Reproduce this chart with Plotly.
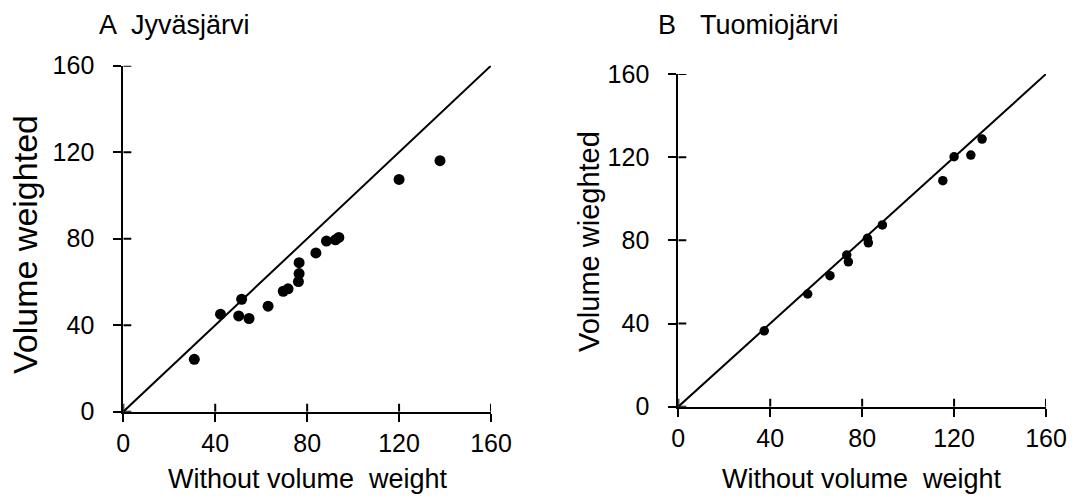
import plotly.graph_objects as go

# Jyväsjärvi: estimates without and with volume weighting
jyv_without = [30.9, 42.3, 51.5, 50.2, 54.7, 63.0, 69.6, 71.7, 76.2, 76.5, 76.5, 83.8, 88.4, 92.3, 93.8, 120.0, 137.8]
jyv_weighted = [24.2, 45.1, 52.0, 44.3, 43.1, 48.8, 55.7, 56.8, 60.2, 63.9, 68.9, 73.4, 78.9, 79.5, 80.6, 107.4, 116.1]

# Tuomiojärvi
tuo_without = [37.4, 56.3, 66.0, 73.3, 74.0, 82.3, 82.7, 88.8, 115.1, 120.0, 127.3, 132.2]
tuo_weighted = [36.5, 54.2, 63.0, 72.9, 69.7, 81.0, 78.8, 87.4, 108.7, 120.2, 121.0, 128.7]

# 1:1 reference line
one_to_one = [0, 160]
tick_vals = [0, 40, 80, 120, 160]

W, H = 1072, 496
FONT = "Liberation Sans, Arial, sans-serif"

fig = go.Figure()

fig.add_trace(go.Scatter(x=one_to_one, y=one_to_one, mode="lines",
                         line=dict(color="black", width=2), xaxis="x", yaxis="y",
                         showlegend=False, hoverinfo="skip"))
fig.add_trace(go.Scatter(x=jyv_without, y=jyv_weighted, mode="markers",
                         marker=dict(color="black", size=11), xaxis="x", yaxis="y",
                         showlegend=False))
fig.add_trace(go.Scatter(x=one_to_one, y=one_to_one, mode="lines",
                         line=dict(color="black", width=2), xaxis="x2", yaxis="y2",
                         showlegend=False, hoverinfo="skip"))
fig.add_trace(go.Scatter(x=tuo_without, y=tuo_weighted, mode="markers",
                         marker=dict(color="black", size=9.5), xaxis="x2", yaxis="y2",
                         showlegend=False))


def px_x(p):
    return p / W


def px_y(p):
    return 1 - p / H


tickfont = dict(family=FONT, size=25, color="black")

base_x = dict(range=[0, 160], tickvals=tick_vals, ticks="outside", ticklen=8, tickwidth=2,
              tickcolor="black", showline=True, linewidth=2, linecolor="black",
              showgrid=False, zeroline=False, tickfont=tickfont, ticklabelstandoff=0,
              automargin=False)
base_y = dict(range=[0, 160], tickvals=tick_vals, ticks="outside", ticklen=8, tickwidth=2,
              tickcolor="black", showline=True, linewidth=2, linecolor="black",
              showgrid=False, zeroline=False, tickfont=tickfont, ticklabelstandoff=14,
              automargin=False)

fig.update_layout(
    width=W, height=H,
    margin=dict(l=0, r=0, t=0, b=0, autoexpand=False),
    paper_bgcolor="white", plot_bgcolor="white",
    xaxis=dict(base_x, domain=[px_x(123.3), px_x(491)], anchor="y"),
    yaxis=dict(base_y, domain=[px_y(411.7), px_y(65.7)], anchor="x"),
    xaxis2=dict(base_x, domain=[px_x(678.3), px_x(1046)], anchor="y2"),
    yaxis2=dict(base_y, domain=[px_y(406.7), px_y(74)], anchor="x2"),
)

# inner half of the cross ticks (the outer half comes from the axes)
for xr, yr in (("x", "y"), ("x2", "y2")):
    for v in tick_vals:
        fig.add_shape(type="line", xref=xr, yref=yr, xsizemode="pixel", xanchor=0,
                      x0=0, x1=8, y0=v, y1=v, line=dict(color="black", width=2))
        fig.add_shape(type="line", xref=xr, yref=yr, ysizemode="pixel", yanchor=0,
                      y0=0, y1=8, x0=v, x1=v, line=dict(color="black", width=2))


def note(text, x, y, size, xanchor="center", yanchor="middle", angle=0):
    fig.add_annotation(text=text, x=px_x(x), y=px_y(y), xref="paper", yref="paper",
                       xanchor=xanchor, yanchor=yanchor, textangle=angle, showarrow=False,
                       font=dict(family=FONT, size=size, color="black"))


note("A", 97, 25, 27, xanchor="left")
note("Jyväsjärvi", 129, 25, 27, xanchor="left")
note("B", 656, 25, 27, xanchor="left")
note("Tuomiojärvi", 698, 25, 27, xanchor="left")

note("Volume weighted", 25, 245, 34, angle=-90)
note("Volume wieghted", 589, 242, 29, angle=-90)

note("Without volume  weight", 307.5, 479, 27)
note("Without volume  weight", 861.7, 479, 27)

fig.write_html("out.html")
